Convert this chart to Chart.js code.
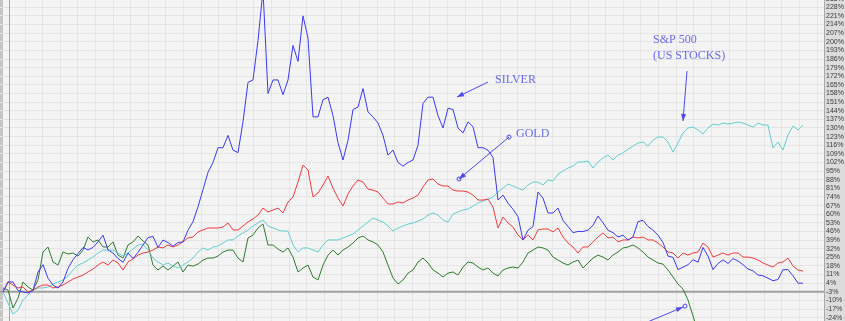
<!DOCTYPE html>
<html>
<head>
<meta charset="utf-8">
<script src="https://cdn.jsdelivr.net/npm/chart.js@4.4.1/dist/chart.umd.min.js"></script>
<style>
html,body{margin:0;padding:0;background:#f4f4f4;overflow:hidden}
</style>
</head>
<body>
<canvas id="graphique" width="845" height="321"></canvas>
<script>
// performance en % (un point tous les 5 px environ)
let silver=[-3,5,5,-2,-3,-4,-2,13,19,8,
 2.5,0,5,16,23,28,33,31,33,37.5,
 43,31,28.5,24,21,28.5,24,29,35,41,
 42,33,39,37,34,37,37.5,47,54,66,
 80,94,102,114,114,124,112,110,135,167,
 169,201,242,158,169,169,157,169,197,184,
 221,203,139,139,153,155,140,118,104,120,
 145,147,162,143,139,134,124,108,112,102,
 99,102,104,116,150,155,155,140,130,146,
 145,130,126,135,131,114,114,112,106,71.5,
 75.5,69,64,58,39,47,50,78,73,61,
 61,65,55,50,45,46,46,47,51,58.5,
 53,47,45,41.5,43,39,41.5,54,55,50,
 47,43,37,26,25,15,17,19,23,21,
 33,26,15,20,23,20,24,22,19,15.5,
 14,10.6,10,8,6,7,15,15,10,4,
 4];

let gold=[-3.2,5,2.5,0.1,0.9,-3.2,-1.6,0.9,2.5,2.5,
 0.1,0.9,2.5,5,7.4,9,10.6,13.1,15.5,18.7,
 21.2,18.7,22.8,20.4,14.7,21.2,23.6,26.8,28.5,29.3,
 30.9,33.4,32.6,35,33.4,35,37.5,40.7,41.5,45.6,
 47.2,48.8,48.8,48.8,49.6,52.9,47.2,47.2,50.4,53.7,
 56.1,59.3,65,61.8,63.4,65,61,69.9,74,86.1,
 99.9,95.9,74,77.2,83.7,91,81.2,73.1,66.6,76.4,
 82.9,87.8,86.1,80.4,79.6,78,73.1,68.3,68.3,69.9,
 69.1,71.5,73.1,75.5,82.1,87.8,88.6,84.5,82.9,82.9,
 79.6,78.8,78.8,78,75.5,71.5,71.5,72.3,65.8,48.8,
 57.7,52.9,49.6,43.1,39.1,43.1,39.1,47.2,48,48,
 45.6,48.8,41.5,36.6,33.4,28.5,33.4,33.4,37.5,41.5,
 44.8,40.7,41.5,37.5,39.1,39.1,41.5,40.7,41.5,39.1,
 39.1,36.6,33.4,29.3,28.5,24.4,28.5,26.8,28.5,29.3,
 36.6,33.4,25.2,26.8,28.5,26.8,28.5,28.5,25.2,25.2,
 24.4,22.8,20.4,18.7,17.1,20.4,21.2,24.4,17.9,14.7,
 13.9];

let sp500=[-3.2,-12.1,-21.1,-17.8,-9.7,-5.6,-1.6,0.1,0.1,0.9,
 3.3,5,6.6,9.8,14.7,18.7,20.4,22.8,25.2,28.5,
 30.9,30.9,30.9,28.5,26,28.5,31.7,35,35.8,30.9,
 24.4,21.2,18.7,20.4,17.9,16.3,18.7,21.2,24.4,29.3,
 32.6,30.9,33.4,34.2,36.6,39.1,39.1,42.3,44.7,47.2,
 50.4,52.9,55.3,50.4,48.8,47.2,46.3,46.3,35,29.3,
 32.6,32.6,30.9,29.3,35,39.1,39.1,39.1,40.7,42.3,
 43.9,47.2,50.4,53.6,56.9,55.3,53.6,50.4,46.3,48.8,
 50.4,52,52.8,54.4,56.1,59.3,61,59.3,55.3,53.6,
 60.2,61.8,63.4,64.2,66.6,69.1,70.7,72.3,74,78,
 81.2,84.5,82.9,81.2,79.6,83.7,86.1,86.1,83.7,87.8,
 86.9,92.6,95.1,97.5,99.1,102.4,102.4,103.2,97.5,102.4,
 105.6,108,104,108,109.7,112.9,115.3,117.8,118.6,115.3,
 120.2,122.7,122.7,118.6,110.5,117.8,125.9,130,130.8,128.4,
 125.1,130,133.2,132.4,134,133.2,134,134.8,134,132.4,
 130.8,134,132.4,132.4,113.7,118.6,112.1,124.3,131.6,128.4,
 132.4];

// 4e serie (verte), sort par le bas du graphique
let vert=[0.1,-1.6,-16.2,-8.1,5,0.9,-1.6,6.6,29.3,33.4,
 21.2,18.7,29.3,27.7,28.5,26,30.9,41.5,37.5,39.1,
 33.4,33.4,37.5,26.8,24.4,35,37.5,42.3,38.2,35,
 18.7,14.7,17.9,14.7,17.9,21.2,13.1,18.7,17.9,19.5,
 22.8,24.4,24.4,26,29.3,30.9,30.9,24.4,21.2,40.7,
 43.1,48.8,52,35,35,31.7,29.3,32.6,25.2,13.1,
 16.3,18.7,9,6.6,18.7,26.8,30.9,26.8,30.9,33.4,
 36.6,40.7,42.3,39.1,37.5,35,29.3,18.7,8.2,3.3,
 6.6,12.2,14.7,21.2,24.4,20.4,14.7,12.2,9,12.2,
 13.1,10.6,17.1,21.2,20.4,17.1,14.7,16.3,12.2,9.8,
 14.7,16.3,17.1,16.3,21.2,28.5,30.9,33.4,32.6,30.9,
 25.2,22.8,20.4,18.7,21.2,22.8,16.3,20.4,24.4,26.8,
 25.2,22.8,26.8,29.3,32.6,33.4,35,32.6,29.3,25.2,
 22.8,20.4,19.5,14.7,9,3.3,-0.8,-9.7,-22.6,-35.7,
 -48];

let jours=silver.map((v,i)=>i);

let yTicks=[-24,-17,-10,-3,4,11,18,25,32,39,46,53,60,67,74,81,88,95,102,109,
 116,123,130,137,144,151,158,165,172,179,186,193,200,207,214,221,228,235];

// textes et fleches (en unites du graphique)
let notes=[
 {text:'SILVER',x:98.4,y:166.5},
 {text:'GOLD',x:102.6,y:122.6},
 {text:'S&P 500',x:130,y:199},
 {text:'(US STOCKS)',x:130,y:186}
];
let fleches=[
 {from:[97,167.3],to:[90.8,155.1],rond:false,pointe:true},
 {from:[101.2,122.6],to:[91.2,88.6],rond:true,pointe:true},
 {from:[136.8,176.2],to:[136,135.7],rond:false,pointe:true},
 {from:[128.4,-28.4],to:[136,-15.4],rond:false,pointe:true,bout:true}
];

var decor={
 id:'decor',
 beforeDraw(chart){
  var c=chart.ctx,a=chart.chartArea;
  c.save();
  c.fillStyle='#f4f4f4';
  c.fillRect(0,0,chart.width,chart.height);
  c.fillStyle='#dcdcdc';
  c.fillRect(a.right,0,chart.width-a.right,chart.height);
  c.fillStyle='#a9a9a9';
  c.fillRect(a.right,0,1,chart.height);
  c.fillStyle='#c6c6c6';
  c.fillRect(0,0,3,chart.height);
  c.restore();
 },
 beforeDatasetsDraw(chart){
  var c=chart.ctx,a=chart.chartArea,y=chart.scales.y.getPixelForValue(-3);
  c.save();
  c.strokeStyle='#a0a0a0';
  c.lineWidth=2;
  c.beginPath();c.moveTo(a.left,y);c.lineTo(a.right,y);c.stroke();
  c.strokeStyle='#9cab9c';
  c.lineWidth=1;
  c.beginPath();c.moveTo(9.5,0);c.lineTo(9.5,chart.height);c.stroke();
  c.restore();
 },
 afterDatasetsDraw(chart){
  var c=chart.ctx,sx=chart.scales.x,sy=chart.scales.y;
  c.save();
  c.font='12px "Liberation Serif", "Times New Roman", serif';
  c.fillStyle='#6a6af2';
  c.textBaseline='alphabetic';
  notes.forEach(n=>c.fillText(n.text,sx.getPixelForValue(n.x),sy.getPixelForValue(n.y)));
  c.strokeStyle='#4a4af0';
  c.fillStyle='#4a4af0';
  c.lineWidth=1;
  fleches.forEach(f=>{
   var x0=sx.getPixelForValue(f.from[0]),y0=sy.getPixelForValue(f.from[1]);
   var x1=sx.getPixelForValue(f.to[0]),y1=sy.getPixelForValue(f.to[1]);
   c.beginPath();c.moveTo(x0,y0);c.lineTo(x1,y1);c.stroke();
   var ang=Math.atan2(y1-y0,x1-x0);
   if(f.pointe){
    c.beginPath();
    c.moveTo(x1,y1);
    c.lineTo(x1-7*Math.cos(ang)+2.5*Math.sin(ang),y1-7*Math.sin(ang)-2.5*Math.cos(ang));
    c.lineTo(x1-7*Math.cos(ang)-2.5*Math.sin(ang),y1-7*Math.sin(ang)+2.5*Math.cos(ang));
    c.closePath();c.fill();
   }
   if(f.rond){
    c.beginPath();c.arc(x0,y0,2,0,Math.PI*2);c.stroke();
    c.beginPath();c.arc(x1,y1,2,0,Math.PI*2);c.stroke();
   }
   if(f.bout){
    c.beginPath();c.arc(x1+2,y1-1,2,0,Math.PI*2);c.stroke();
   }
  });
  c.restore();
 }
};

function courbe(nom,valeurs,couleur){
 return {label:nom,data:valeurs,borderColor:couleur,backgroundColor:couleur,
  borderWidth:1,pointRadius:0,tension:0,fill:false};
}

var ctx=document.getElementById('graphique').getContext('2d');
var graphique=new Chart(ctx,{
 type:'line',
 data:{
  labels:jours,
  datasets:[
   courbe('SILVER',silver,'#3a3af6'),
   courbe('GOLD',gold,'#f53c3c'),
   courbe('S&P 500',sp500,'#62d0d0'),
   courbe('4',vert,'#2f7d2f')
  ]
 },
 options:{
  responsive:false,
  animation:false,
  devicePixelRatio:1,
  layout:{padding:0},
  plugins:{legend:{display:false},tooltip:{enabled:false}},
  scales:{
   x:{
    type:'linear',min:-0.6,max:164.2,
    ticks:{display:false},
    grid:{color:'#e5e5e5',drawTicks:false},
    border:{display:false},
    afterBuildTicks:function(s){
     var t=[];
     for(var v=4.4;v<164;v+=3.52) t.push({value:v});
     s.ticks=t;
    },
    afterFit:function(s){s.height=0;s.paddingLeft=0;s.paddingRight=0;}
   },
   y:{
    position:'right',min:-26.7,max:233.9,
    afterBuildTicks:function(s){s.ticks=yTicks.map(v=>({value:v}));},
    ticks:{
     autoSkip:false,padding:2,crossAlign:'near',color:'#3a3a3a',
     font:{size:7,family:'"Liberation Sans Narrow", "Liberation Sans", sans-serif'},
     callback:function(v){return v+'%';}
    },
    grid:{color:'#e5e5e5',drawTicks:false},
    border:{display:false},
    afterFit:function(s){s.width=21;s.paddingTop=0;s.paddingBottom=0;}
   }
  }
 },
 plugins:[decor]
});
</script>
</body>
</html>
